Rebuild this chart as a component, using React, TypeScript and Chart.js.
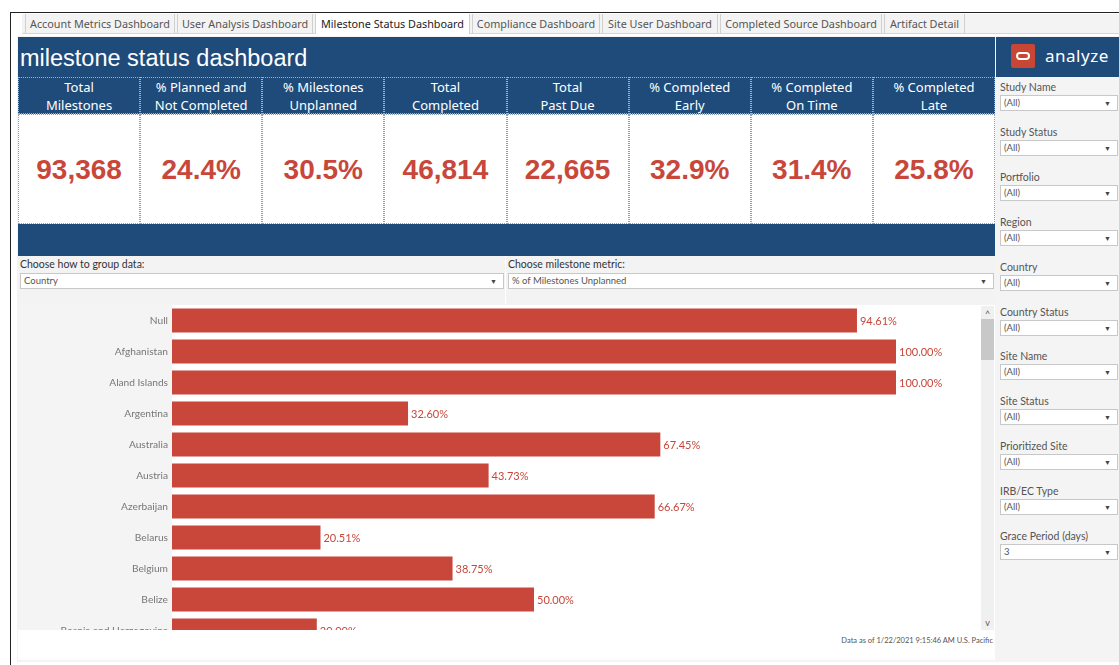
import React, { useEffect, useRef } from "react";
import { Chart, registerables } from "chart.js";

Chart.register(...registerables);

const categories = [
  "Null",
  "Afghanistan",
  "Aland Islands",
  "Argentina",
  "Australia",
  "Austria",
  "Azerbaijan",
  "Belarus",
  "Belgium",
  "Belize",
  "Bosnia and Herzegovina",
];
const unplannedPct = [94.61, 100.0, 100.0, 32.6, 67.45, 43.73, 66.67, 20.51, 38.75, 50.0, 20.0];

const tabs = [
  "Account Metrics Dashboard",
  "User Analysis Dashboard",
  "Milestone Status Dashboard",
  "Compliance Dashboard",
  "Site User Dashboard",
  "Completed Source Dashboard",
  "Artifact Detail",
];
const tabWidths = [150, 136, 155, 128, 116, 162, 81];

const kpiTitles = [
  ["Total", "Milestones"],
  ["% Planned and", "Not Completed"],
  ["% Milestones", "Unplanned"],
  ["Total", "Completed"],
  ["Total", "Past Due"],
  ["% Completed", "Early"],
  ["% Completed", "On Time"],
  ["% Completed", "Late"],
];
const kpiValues = ["93,368", "24.4%", "30.5%", "46,814", "22,665", "32.9%", "31.4%", "25.8%"];

const filterLabels = [
  "Study Name",
  "Study Status",
  "Portfolio",
  "Region",
  "Country",
  "Country Status",
  "Site Name",
  "Site Status",
  "Prioritized Site",
  "IRB/EC Type",
  "Grace Period (days)",
];
const filterValues = ["(All)", "(All)", "(All)", "(All)", "(All)", "(All)", "(All)", "(All)", "(All)", "(All)", "3"];

const BLUE = "#1f4b7b";
const RED = "#c8473a";
const UI_FONT = "'Noto Sans', 'Open Sans', sans-serif";
const SMALL_FONT = "Lato, 'Noto Sans', sans-serif";

function BarChart() {
  const ref = useRef<HTMLCanvasElement | null>(null);
  useEffect(() => {
    if (!ref.current) return;
    const labelPlugin = {
      id: "valueLabels",
      beforeDraw(chart: any) {
        const { ctx, chartArea } = chart;
        ctx.save();
        ctx.fillStyle = "#f4f4f4";
        ctx.fillRect(0, 0, chartArea.left, chart.height);
        ctx.restore();
      },
      afterDatasetsDraw(chart: any) {
        const { ctx } = chart;
        const meta = chart.getDatasetMeta(0);
        ctx.save();
        ctx.fillStyle = RED;
        ctx.font = "11px " + SMALL_FONT;
        ctx.textBaseline = "middle";
        ctx.textAlign = "left";
        meta.data.forEach((bar: any, i: number) => {
          const v = chart.data.datasets[0].data[i] as number;
          ctx.fillText(v.toFixed(2) + "%", bar.x + 3, bar.y + 1);
        });
        ctx.restore();
      },
    };
    const chart = new Chart(ref.current, {
      type: "bar",
      data: {
        labels: categories,
        datasets: [
          {
            data: unplannedPct,
            backgroundColor: RED,
            borderWidth: 0,
            barPercentage: 0.78,
            categoryPercentage: 1,
          },
        ],
      },
      options: {
        indexAxis: "y",
        responsive: false,
        animation: false,
        events: [],
        layout: { padding: { top: 0, bottom: 0, left: 0, right: 84 } },
        plugins: { legend: { display: false }, tooltip: { enabled: false } },
        scales: {
          x: { display: false, min: 0, max: 100 },
          y: {
            grid: { display: false, drawTicks: false },
            border: { display: false },
            ticks: { color: "#777", font: { size: 10.2, family: SMALL_FONT }, padding: 4 },
            afterFit(scale: any) {
              scale.width = 154;
              scale.paddingTop = 0;
              scale.paddingBottom = 0;
            },
          },
        },
      },
      plugins: [labelPlugin],
    });
    return () => chart.destroy();
  }, []);
  return <canvas ref={ref} width={962} height={341} style={{ display: "block", width: 962, height: 341 }} />;
}

function Dropdown({ x, y, w, text }: { x: number; y: number; w: number; text: string }) {
  return (
    <div
      style={{
        position: "absolute",
        left: x,
        top: y,
        width: w,
        height: 16,
        background: "#fff",
        border: "1px solid #c8c8c8",
        boxSizing: "border-box",
        fontFamily: SMALL_FONT,
        fontSize: 9.5,
        color: "#555",
        lineHeight: "14px",
        paddingLeft: 3,
      }}
    >
      {text}
      <span style={{ position: "absolute", right: 6, top: 0, fontSize: 7, color: "#444" }}>▼</span>
    </div>
  );
}

export default function App() {
  const colW = (995 - 18) / 8;
  return (
    <div style={{ position: "absolute", left: 0, top: 0, width: 1119, height: 665, background: "#fff", overflow: "hidden" }}>
      {/* frame lines */}
      <div style={{ position: "absolute", left: 10, top: 12, width: 1109, height: 1, background: "#222" }} />
      <div style={{ position: "absolute", left: 10, top: 12, width: 1, height: 653, background: "#222" }} />
      {/* tab strip */}
      <div style={{ position: "absolute", left: 22, top: 14, width: 1097, height: 19, background: "#f3f3f3", borderBottom: "1px solid #d6d6d6" }} />
      {(() => {
        let x = 25;
        return tabs.map((t, i) => {
          const left = x;
          x += tabWidths[i] + 2;
          const active = i === 2;
          return (
            <div
              key={t}
              style={{
                position: "absolute",
                left,
                top: 14,
                width: tabWidths[i],
                height: active ? 20 : 19,
                boxSizing: "border-box",
                background: active ? "#fff" : "#f3f3f3",
                borderLeft: "1px solid #d0d0d0",
                borderRight: "1px solid #d0d0d0",
                fontFamily: UI_FONT,
                fontSize: 10.8,
                color: active ? "#222" : "#555",
                textAlign: "center",
                lineHeight: "19px",
                whiteSpace: "nowrap",
              }}
            >
              {t}
            </div>
          );
        });
      })()}
      {/* dashboard background */}
      <div style={{ position: "absolute", left: 17, top: 36, width: 1102, height: 626, background: "#f4f4f4" }} />
      {/* title band */}
      <div style={{ position: "absolute", left: 18, top: 37, width: 977, height: 40, background: BLUE }} />
      <div
        style={{
          position: "absolute",
          left: 20,
          top: 45,
          fontFamily: "'Liberation Sans', Arial, sans-serif",
          fontSize: 23.5,
          color: "#fff",
          whiteSpace: "nowrap",
        }}
      >
        milestone status dashboard
      </div>
      {/* KPI tiles */}
      {kpiTitles.map((t, i) => (
        <React.Fragment key={i}>
          <div
            style={{
              position: "absolute",
              left: 18 + i * colW,
              top: 77,
              width: colW,
              height: 37,
              boxSizing: "border-box",
              background: BLUE,
              border: "1px dotted #9fb3c8",
              color: "#fff",
              fontFamily: UI_FONT,
              fontSize: 13,
              lineHeight: "17.5px",
              textAlign: "center",
              paddingTop: 1,
            }}
          >
            {t[0]}
            <br />
            {t[1]}
          </div>
          <div
            style={{
              position: "absolute",
              left: 18 + i * colW,
              top: 114,
              width: colW,
              height: 110,
              boxSizing: "border-box",
              background: "#fff",
              border: "1px dotted #8aa3bd",
              color: RED,
              fontFamily: "'Liberation Sans', Arial, sans-serif",
              fontWeight: "bold",
              fontSize: 28,
              lineHeight: "110px",
              textAlign: "center",
            }}
          >
            {kpiValues[i]}
          </div>
        </React.Fragment>
      ))}
      <div style={{ position: "absolute", left: 18, top: 224, width: 977, height: 32, background: BLUE }} />
      {/* controls */}
      <div style={{ position: "absolute", left: 18, top: 256, width: 977, height: 48, background: "#f3f3f3" }} />
      <div style={{ position: "absolute", left: 505, top: 256, width: 1, height: 48, background: "#fff" }} />
      <div style={{ position: "absolute", left: 20, top: 258, fontFamily: SMALL_FONT, fontSize: 10.5, color: "#333" }}>
        Choose how to group data:
      </div>
      <Dropdown x={20} y={273} w={484} text="Country" />
      <div style={{ position: "absolute", left: 508, top: 258, fontFamily: SMALL_FONT, fontSize: 10.5, color: "#333" }}>
        Choose milestone metric:
      </div>
      <Dropdown x={508} y={273} w={486} text="% of Milestones Unplanned" />
      {/* chart area */}
      <div style={{ position: "absolute", left: 18, top: 305, width: 977, height: 355, background: "#fff" }} />
      <div style={{ position: "absolute", left: 18, top: 305, width: 962, height: 325, overflow: "hidden" }}>
        <BarChart />
      </div>
      {/* scrollbar */}
      <div style={{ position: "absolute", left: 981, top: 306, width: 13, height: 324, background: "#f0f0f0" }} />
      <div style={{ position: "absolute", left: 981, top: 319, width: 13, height: 41, background: "#c8c8c8" }} />
      <div style={{ position: "absolute", left: 981, top: 306, width: 13, height: 13, fontSize: 9, color: "#555", textAlign: "center", lineHeight: "15px", fontFamily: SMALL_FONT }}>
        ^
      </div>
      <div style={{ position: "absolute", left: 981, top: 616, width: 13, height: 13, fontSize: 9, color: "#555", textAlign: "center", lineHeight: "13px", fontFamily: SMALL_FONT }}>
        v
      </div>
      <div
        style={{
          position: "absolute",
          right: 1119 - 993,
          top: 636,
          fontFamily: SMALL_FONT,
          fontSize: 7.5,
          color: "#555",
          whiteSpace: "nowrap",
        }}
      >
        Data as of 1/22/2021 9:15:46 AM U.S. Pacific
      </div>
      {/* sidebar */}
      <div style={{ position: "absolute", left: 996, top: 37, width: 123, height: 40, background: BLUE }} />
      <div style={{ position: "absolute", left: 1011, top: 44, width: 24, height: 24, background: "#c74634", borderRadius: 2 }}>
        <div
          style={{
            position: "absolute",
            left: 5,
            top: 8,
            width: 14,
            height: 8,
            boxSizing: "border-box",
            border: "2px solid #fff",
            borderRadius: 5,
          }}
        />
      </div>
      <div style={{ position: "absolute", left: 1045, top: 44, fontFamily: UI_FONT, fontSize: 17, color: "#fff", letterSpacing: 0.5 }}>
        analyze
      </div>
      {filterLabels.map((l, i) => (
        <React.Fragment key={l}>
          <div
            style={{
              position: "absolute",
              left: 1000,
              top: 81 + i * 44.9,
              fontFamily: SMALL_FONT,
              fontSize: 10.5,
              color: "#555",
              whiteSpace: "nowrap",
            }}
          >
            {l}
          </div>
          <Dropdown x={1000} y={95 + i * 44.9} w={118} text={filterValues[i]} />
        </React.Fragment>
      ))}
    </div>
  );
}
